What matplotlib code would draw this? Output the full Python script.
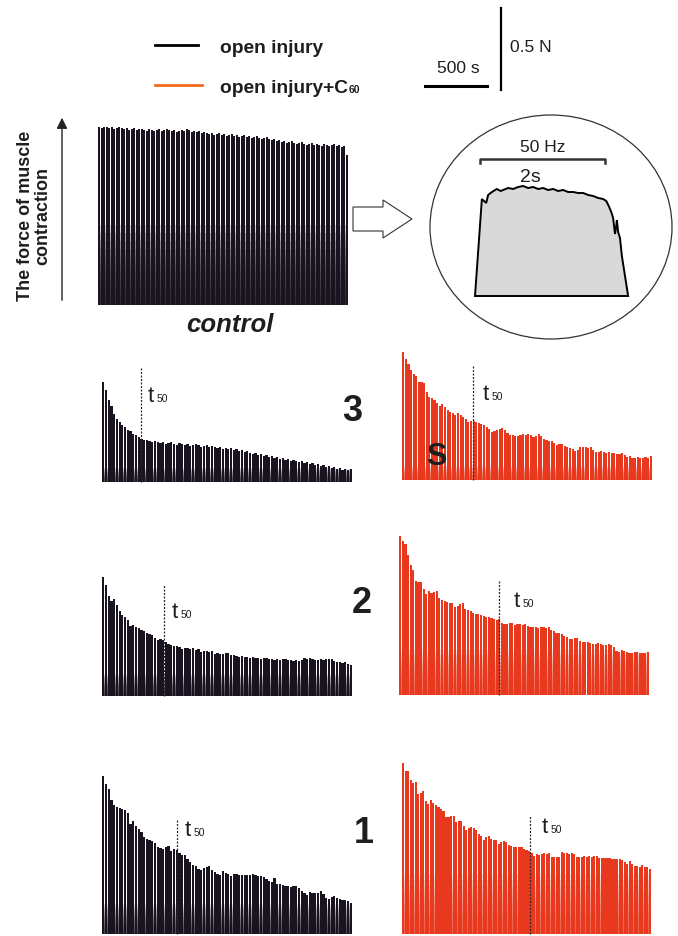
import numpy as np
import matplotlib.pyplot as plt
from matplotlib.patches import Ellipse, Polygon

plt.rcParams['font.family'] = ['Liberation Sans', 'DejaVu Sans']

# peak force of each tetanic contraction, arbitrary units (scale bar: 0.5 N = 82)
control = [178, 177, 178, 178, 177, 178, 176, 177, 178, 177,
           176, 177, 175, 176, 177, 175, 176, 176, 175, 174,
           176, 175, 174, 175, 176, 174, 175, 176, 175, 174,
           175, 173, 174, 175, 174, 176, 175, 173, 174, 173,
           174, 172, 173, 172, 171, 172, 170, 171, 172, 170,
           171, 169, 170, 171, 169, 170, 168, 169, 170, 168,
           169, 167, 168, 169, 167, 166, 167, 168, 166, 165,
           166, 164, 165, 163, 164, 162, 163, 164, 162, 161,
           162, 163, 161, 160, 161, 162, 160, 161, 160, 159,
           161, 160, 159, 160, 161, 159, 160, 158, 159, 150]

black3 = [100, 92, 82, 76, 68, 63, 60, 57, 55, 52,
          51, 48, 47, 45, 43, 42, 42, 41, 40, 41,
          40, 39, 40, 38, 39, 40, 38, 37, 39, 38,
          37, 38, 36, 37, 38, 37, 35, 36, 37, 35,
          36, 35, 34, 35, 33, 34, 33, 34, 32, 33,
          31, 32, 30, 31, 29, 28, 29, 27, 28, 26,
          27, 25, 26, 24, 25, 23, 24, 22, 23, 21,
          22, 21, 20, 21, 19, 20, 18, 19, 17, 18,
          16, 17, 15, 16, 14, 15, 13, 14, 12, 13,
          12, 13]

red3 = [128, 121, 116, 110, 106, 104, 98, 98, 97, 88,
        83, 82, 80, 77, 74, 76, 73, 70, 68, 67,
        65, 67, 65, 63, 61, 58, 59, 59, 58, 57,
        56, 55, 53, 51, 48, 49, 50, 51, 52, 50,
        47, 45, 45, 44, 44, 45, 46, 45, 46, 45,
        43, 44, 46, 44, 41, 40, 39, 39, 37, 35,
        36, 36, 34, 33, 32, 31, 29, 30, 33, 33,
        33, 32, 33, 30, 28, 28, 29, 28, 27, 28,
        27, 27, 26, 26, 27, 25, 23, 24, 22, 22,
        23, 22, 22, 23, 22, 24]

black2 = [119, 111, 100, 95, 97, 91, 85, 81, 79, 76,
          70, 71, 69, 68, 66, 65, 63, 62, 61, 58,
          56, 57, 56, 54, 52, 51, 50, 50, 49, 47,
          48, 48, 47, 48, 46, 47, 44, 45, 45, 44,
          45, 42, 43, 42, 42, 43, 43, 41, 41, 40,
          39, 40, 39, 39, 38, 39, 38, 38, 37, 38,
          38, 37, 37, 36, 37, 36, 37, 37, 36, 36,
          35, 36, 35, 36, 38, 37, 38, 37, 36, 36,
          37, 36, 37, 37, 37, 35, 34, 34, 33, 34,
          32, 31]

red2 = [159, 154, 151, 140, 130, 125, 114, 113, 113, 106,
        101, 104, 102, 103, 104, 97, 95, 94, 93, 92,
        92, 88, 89, 91, 92, 86, 85, 84, 82, 81,
        81, 80, 79, 78, 78, 77, 76, 75, 76, 72,
        71, 71, 72, 72, 70, 71, 71, 70, 71, 69,
        68, 68, 68, 67, 68, 68, 67, 68, 65, 64,
        62, 62, 61, 59, 58, 56, 56, 57, 57, 54,
        53, 53, 53, 52, 51, 51, 52, 51, 50, 50,
        51, 50, 48, 44, 43, 45, 44, 43, 42, 42,
        43, 43, 42, 42, 42, 43]

black1 = [158, 150, 145, 134, 129, 127, 126, 125, 124, 121,
          110, 113, 108, 105, 102, 97, 95, 94, 93, 91,
          87, 86, 85, 87, 88, 83, 85, 84, 81, 79,
          79, 75, 72, 69, 68, 65, 64, 66, 67, 68,
          64, 62, 60, 59, 63, 61, 60, 58, 60, 60,
          59, 59, 59, 59, 59, 60, 59, 58, 58, 57,
          55, 53, 52, 56, 50, 50, 49, 48, 48, 47,
          48, 48, 46, 43, 41, 39, 42, 41, 41, 41,
          43, 40, 36, 35, 37, 38, 36, 35, 34, 34,
          33, 31]

red1 = [171, 163, 163, 154, 151, 152, 140, 141, 143, 133,
        130, 134, 131, 129, 127, 125, 123, 117, 117, 118,
        118, 112, 113, 113, 108, 104, 106, 107, 106, 104,
        100, 98, 94, 97, 98, 95, 94, 94, 90, 92,
        93, 92, 89, 88, 87, 87, 87, 87, 85, 84,
        83, 81, 78, 80, 79, 80, 81, 80, 81, 77,
        77, 77, 77, 82, 81, 81, 80, 81, 80, 77,
        77, 77, 78, 77, 78, 77, 78, 78, 76, 76,
        76, 76, 76, 75, 75, 75, 75, 74, 72, 70,
        73, 70, 68, 68, 67, 69, 67, 67, 65]

# pulse index where force falls to 50 %
t50_black = [14.0, 22.4, 27.2]
t50_red = [26.9, 37.8, 50.3]

# single 50 Hz tetanus (inset), time in s
tet_t = [-0.08, 0.03, 0.10, 0.13, 0.19, 0.27, 0.33, 0.37, 0.45, 0.53,
         0.61, 0.69, 0.77, 0.85, 0.93, 1.01, 1.09, 1.17, 1.25, 1.33,
         1.41, 1.49, 1.57, 1.65, 1.73, 1.81, 1.89, 1.97, 2.02, 2.06,
         2.10, 2.13, 2.16, 2.18, 2.19, 2.21, 2.24, 2.27, 2.32, 2.37]
tet_f = [0, 97, 93, 101, 104, 107, 105, 106, 108, 107,
         109, 110, 108, 109, 107, 108, 106, 107, 105, 106,
         104, 104, 103, 103, 101, 100, 98, 97, 95, 90,
         84, 78, 62, 70, 76, 64, 58, 40, 20, 0]

W, H = 678, 936
BLACK = '#1a1420'
RED = '#e8381d'
ORANGE = '#f26a1c'
TXT = '#1e1e1e'

fig = plt.figure(figsize=(W / 100, H / 100), dpi=100)


def add_trace(x0, x1, base, top, peaks, color, band, fade=0.14, width=0.82, t50=None, t50_top=0):
    ax = fig.add_axes([x0 / W, 1 - (base + 2) / H, (x1 - x0) / W, (base + 2 - top) / H])
    n = len(peaks)
    idx = np.arange(n)
    pk = np.array(peaks)
    ax.bar(idx, pk, width=width, color=color, linewidth=0)
    # lower part gets denser where successive contractions overlap
    for k in range(1, 11):
        ax.bar(idx, np.minimum(pk, band * k / 10), width=1.0, color=color, alpha=fade, linewidth=0)
    if t50 is not None:
        ax.plot([t50, t50], [0, t50_top], color='#2a2a2a', lw=0.9, ls=(0, (1.6, 1.2)), zorder=5)
    ax.set_xlim(-0.5, n - 0.5)
    ax.set_ylim(-2, base - top)
    ax.axis('off')
    return ax


add_trace(98, 348, 305, 120, control, BLACK, 80, fade=0.2, width=0.86)
add_trace(102, 352, 482, 368, black3, BLACK, 14, t50=t50_black[0], t50_top=114)
add_trace(402, 652, 480, 345, red3, RED, 14, t50=t50_red[0], t50_top=114)
add_trace(102, 352, 696, 570, black2, BLACK, 22, t50=t50_black[1], t50_top=112)
add_trace(399, 649, 695, 530, red2, RED, 45, t50=t50_red[1], t50_top=115)
add_trace(102, 352, 934, 760, black1, BLACK, 30, t50=t50_black[2], t50_top=115)
add_trace(402, 651, 934, 755, red1, RED, 60, t50=t50_red[2], t50_top=119)

# inset: one tetanus
ins = fig.add_axes([470 / W, 1 - 300 / H, 170 / W, 170 / H])
ins.fill(tet_t, tet_f, facecolor='#d9d9d9', edgecolor='black', lw=1.4)
ins.plot([0, 0, 2, 2], [133, 137, 137, 133], color='#333333', lw=1.8)
ins.text(1.0, 148, '50 Hz', ha='center', va='center', fontsize=12.5, color=TXT)
ins.text(0.8, 119, '2s', ha='center', va='center', fontsize=14, color=TXT)
ins.set_xlim(-0.16, 2.56)
ins.set_ylim(-4, 166)
ins.axis('off')

# overlay in pixel coordinates for labels and decorations
ov = fig.add_axes([0, 0, 1, 1])
ov.set_xlim(0, W)
ov.set_ylim(H, 0)
ov.axis('off')

ov.plot([155, 198], [45, 45], color='black', lw=2)
ov.plot([155, 202], [85, 85], color=ORANGE, lw=2)
ov.text(220, 53, 'open injury', fontsize=13.8, fontweight='bold', va='baseline', color=TXT)
leg2 = ov.text(220, 93, 'open injury+C', fontsize=13.8, fontweight='bold', va='baseline', color=TXT)
ov.annotate('60', xy=(1, 0), xycoords=leg2, xytext=(0.5, 1.5), textcoords='offset points',
            fontsize=7.5, fontweight='bold', va='bottom', ha='left', color=TXT)

ov.plot([425, 487], [86, 86], color='black', lw=2.2)
ov.text(458, 73, '500 s', fontsize=12.5, ha='center', va='baseline', color=TXT)
ov.plot([501, 501], [8, 90], color='black', lw=1.6)
ov.text(510, 52, '0.5 N', fontsize=12.5, va='baseline', color=TXT)

ov.text(34, 216, 'The force of muscle\ncontraction', rotation=90, ha='center', va='center',
        fontsize=13, fontweight='bold', linespacing=1.0, multialignment='center', color=TXT)
ov.annotate('', xy=(62, 115), xytext=(62, 303),
            arrowprops=dict(arrowstyle='-|>', color='#222222', lw=1.0, mutation_scale=16))
ov.text(230, 332, 'control', fontsize=18.5, fontweight='bold', style='italic', ha='center', va='baseline',
        color=TXT)

ov.add_patch(Polygon([(353, 207), (383, 207), (383, 200), (412, 219), (383, 238), (383, 231), (353, 231)],
                     closed=True, facecolor='white', edgecolor='#333333', lw=0.8))
ov.add_patch(Ellipse((551, 227), 242, 224, facecolor='none', edgecolor='#333333', lw=0.9))

for x, y in [(148, 402), (483, 400), (172, 618), (514, 607), (185, 836), (542, 833)]:
    ov.text(x, y, 't', fontsize=16, va='baseline', color=TXT)
    ov.text(x + 8.5, y, '50', fontsize=7.5, va='baseline', color=TXT)

ov.text(352, 421, '3', fontsize=26, fontweight='bold', ha='center', va='baseline', color=TXT)
ov.text(362, 613, '2', fontsize=26, fontweight='bold', ha='center', va='baseline', color=TXT)
ov.text(364, 843, '1', fontsize=26, fontweight='bold', ha='center', va='baseline', color=TXT)
ov.text(436, 465, 'S', fontsize=22, fontweight='bold', ha='center', va='baseline', color=TXT)

fig.savefig('out.png', dpi=100)
